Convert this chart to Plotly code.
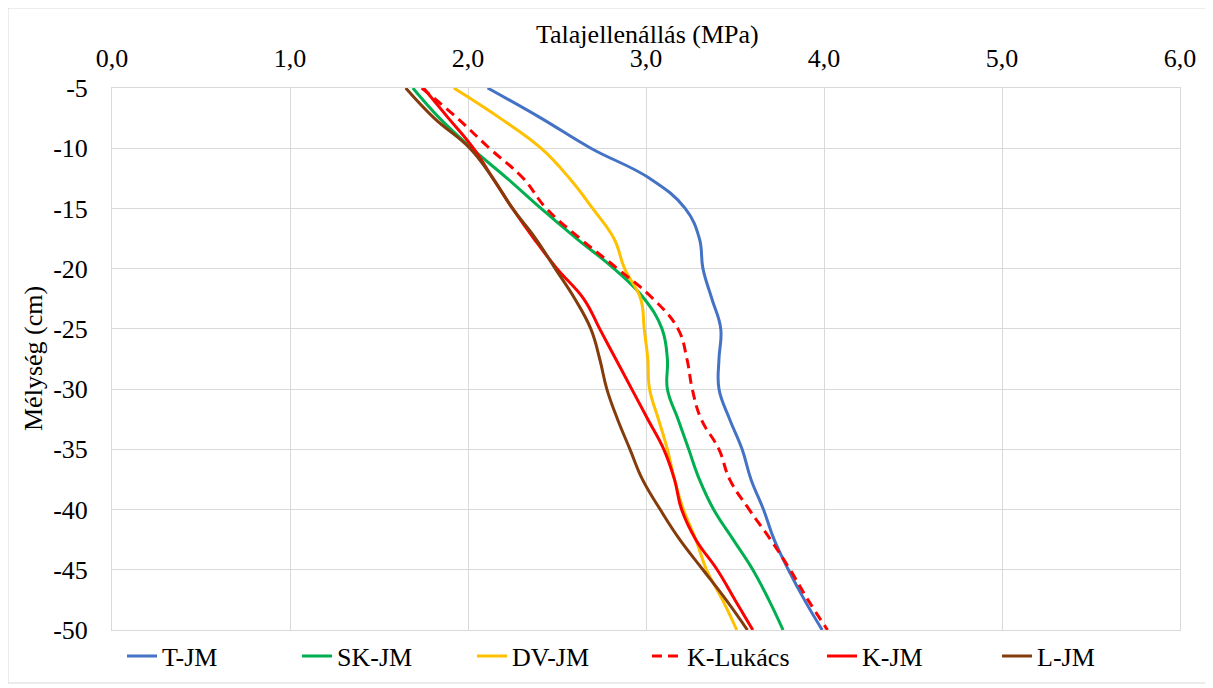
import plotly.graph_objects as go

depth = [-5, -7.5, -10, -12.5, -15, -17.5, -20, -22.5, -25, -27.5, -30, -32.5, -35, -37.5, -40, -42.5, -45, -47.5, -50]

t_jm = [2.11, 2.41, 2.69, 3.02, 3.22, 3.30, 3.32, 3.37, 3.42, 3.41, 3.41, 3.47, 3.54, 3.59, 3.66, 3.72, 3.80, 3.89, 3.99]
sk_jm = [1.69, 1.84, 2.02, 2.22, 2.41, 2.61, 2.82, 2.99, 3.09, 3.12, 3.12, 3.18, 3.24, 3.30, 3.38, 3.49, 3.60, 3.69, 3.77]
dv_jm = [1.92, 2.18, 2.41, 2.57, 2.70, 2.82, 2.88, 2.97, 2.99, 3.01, 3.02, 3.07, 3.12, 3.16, 3.21, 3.28, 3.34, 3.43, 3.51]
k_lukacs = [1.74, 1.94, 2.12, 2.31, 2.44, 2.63, 2.84, 3.04, 3.18, 3.23, 3.26, 3.31, 3.41, 3.47, 3.58, 3.70, 3.81, 3.91, 4.02]
k_jm = [1.75, 1.89, 2.03, 2.14, 2.25, 2.37, 2.50, 2.65, 2.74, 2.83, 2.92, 3.01, 3.10, 3.16, 3.20, 3.28, 3.40, 3.50, 3.60]
l_jm = [1.65, 1.81, 2.01, 2.14, 2.25, 2.38, 2.49, 2.60, 2.69, 2.74, 2.78, 2.84, 2.91, 2.98, 3.08, 3.19, 3.32, 3.45, 3.57]

x_ticks = [0, 1, 2, 3, 4, 5, 6]
x_ticklabels = ["0,0", "1,0", "2,0", "3,0", "4,0", "5,0", "6,0"]
y_ticks = [-5, -10, -15, -20, -25, -30, -35, -40, -45, -50]
y_ticklabels = ["-5", "-10", "-15", "-20", "-25", "-30", "-35", "-40", "-45", "-50"]

series = [
    ("T-JM", t_jm, "#4472C4", "solid"),
    ("SK-JM", sk_jm, "#00B050", "solid"),
    ("DV-JM", dv_jm, "#FFC000", "solid"),
    ("K-Lukács", k_lukacs, "#FF0000", "10px,6px"),
    ("K-JM", k_jm, "#FF0000", "solid"),
    ("L-JM", l_jm, "#843C0C", "solid"),
]

fig = go.Figure()
for name, vals, color, dash in series:
    fig.add_trace(go.Scatter(
        x=vals, y=depth, name=name, mode="lines",
        line=dict(color=color, width=3, dash=dash, shape="spline", smoothing=1.2),
    ))

font_family = "Liberation Serif"
FS = 26
# page offset of 8px (body margin); plot area at page x 112..1180, y 88..630
fig.update_layout(
    width=1213, height=688,
    margin=dict(l=104, r=41, t=80, b=66),
    paper_bgcolor="white", plot_bgcolor="white",
    font=dict(family=font_family, size=FS, color="black"),
    showlegend=True,
    legend=dict(orientation="h", x=(647 - 112) / 1068, xanchor="center",
                y=-0.005, yanchor="top",
                font=dict(size=FS, family=font_family), entrywidth=130,
                itemwidth=30),
    xaxis=dict(
        side="top", range=[0, 6], tickvals=x_ticks, ticktext=x_ticklabels,
        showgrid=True, gridcolor="#D9D9D9", gridwidth=1,
        showline=True, linecolor="#D9D9D9", mirror=True, zeroline=False,
        ticks="", ticklabelstandoff=10,
    ),
    yaxis=dict(
        range=[-50, -5], tickvals=y_ticks, ticktext=y_ticklabels,
        showgrid=True, gridcolor="#D9D9D9", gridwidth=1,
        showline=True, linecolor="#D9D9D9", mirror=True, zeroline=False,
        ticks="", ticklabelstandoff=18,
    ),
    annotations=[
        dict(text="Talajellenállás (MPa)", xref="paper", yref="paper",
             x=(647 - 112) / 1068, y=(622 - 26) / 542, showarrow=False,
             xanchor="center", yanchor="middle", font=dict(size=FS, family=font_family)),
        dict(text="Mélység (cm)", xref="paper", yref="paper",
             x=(25 - 104) / 1068, y=0.5, showarrow=False, textangle=-90,
             xanchor="center", yanchor="middle", font=dict(size=FS, family=font_family)),
    ],
    shapes=[dict(type="rect", xref="paper", yref="paper",
                 x0=(0 - 104) / 1068, x1=(1202 - 104) / 1068,
                 y0=(622 - 675) / 542, y1=(622 - 0) / 542,
                 line=dict(color="#D9D9D9", width=1), fillcolor="rgba(0,0,0,0)",
                 layer="below")],
)

fig.write_html("out.html")
